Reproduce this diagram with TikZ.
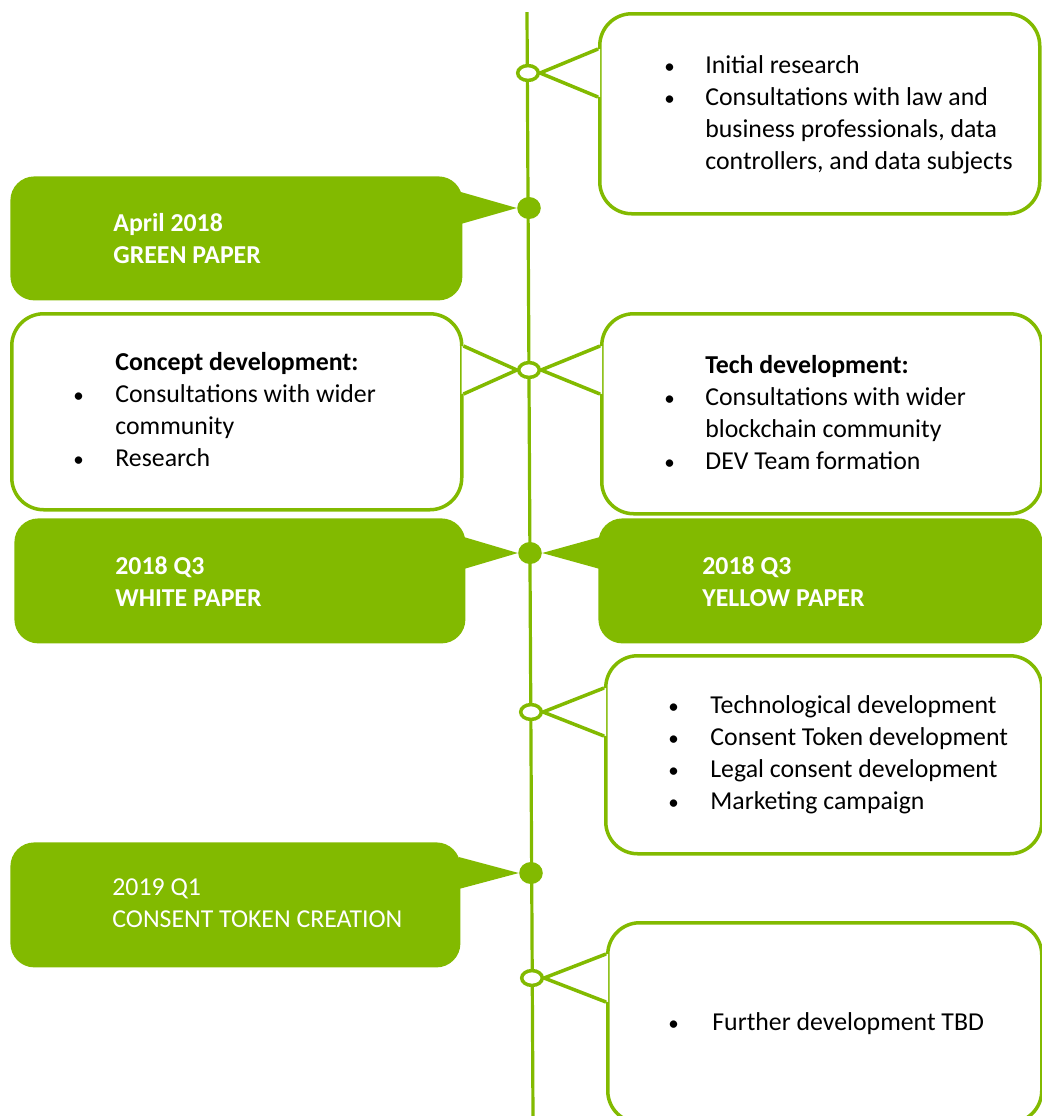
\documentclass[tikz,border=0pt]{standalone}
\usepackage{fontspec}
\setmainfont{Carlito}
\usetikzlibrary{calc, backgrounds, shapes.geometric}
\definecolor{tlgreen}{RGB}{130,186,0}
\newcommand{\blt}{{\fontsize{10.5}{16}\selectfont •}}

\begin{document}
\begin{tikzpicture}[x=0.5pt, y=-0.5pt]
    % Define styles
    \tikzstyle{whitebox} = [rectangle, draw=tlgreen, line width=1.75pt, fill=white, rounded corners=16pt, anchor=north west, inner sep=0pt]
    \tikzstyle{greenbox} = [rectangle, fill=tlgreen, rounded corners=12pt, anchor=north west, inner sep=0pt]
    \tikzstyle{openmark} = [ellipse, draw=tlgreen, line width=1.75pt, fill=white, minimum width=10.3pt, minimum height=7.4pt, inner sep=0pt]
    \tikzstyle{fullmark} = [ellipse, fill=tlgreen, minimum width=11.8pt, minimum height=11pt, inner sep=0pt]
    \tikzstyle{timeline} = [draw=tlgreen, line width=1.6pt]
    \tikzstyle{tailline} = [draw=tlgreen, line width=1.75pt, line join=miter]
    \tikzstyle{bodytext} = [anchor=base west, inner sep=0pt, font=\fontsize{12.9}{16}\selectfont]
    \tikzstyle{datetext} = [bodytext, text=white]

    \useasboundingbox (0,0) rectangle (1042,1116);

    % Markers on the timeline
    \node[openmark] (m1) at (528,73) {};
    \node[fullmark] (m2) at (529,208) {};
    \node[openmark] (m3) at (529,370) {};
    \node[fullmark] (m4) at (530,553) {};
    \node[openmark] (m5) at (531,712) {};
    \node[fullmark] (m6) at (531,873) {};
    \node[openmark] (m7) at (532,978) {};
    \coordinate (top) at (527,12);
    \coordinate (bottom) at (533,1116);

    \begin{scope}[on background layer]
    % Timeline
    \draw[timeline] (top) -- (bottom);

    % White callouts
    \node[whitebox, minimum width=220pt, minimum height=100pt] (research) at (598,12) {};
    \node[whitebox, minimum width=225pt, minimum height=98pt] (concept) at (10,312) {};
    \node[whitebox, minimum width=220pt, minimum height=100pt] (tech) at (600,312) {};
    \node[whitebox, minimum width=218pt, minimum height=99pt] (techdev) at (604,654) {};
    \node[whitebox, minimum width=217pt, minimum height=100pt] (further) at (606,921) {};

    % Green callouts
    \node[greenbox, minimum width=226pt, minimum height=62pt] (greenpaper) at (10,176) {};
    \node[greenbox, minimum width=225.5pt, minimum height=62.5pt] (whitepaper) at (14,518) {};
    \node[greenbox, minimum width=222pt, minimum height=62.5pt] (yellowpaper) at (598,518) {};
    \node[greenbox, minimum width=225pt, minimum height=62.5pt] (tokencreation) at (10,842) {};

    % Tails of the white callouts
    \fill[white] ($(research.west |- m1)+(1pt,12pt)$) -- (m1.east) -- ($(research.west |- m1)+(1pt,-12pt)$) -- cycle;
    \draw[tailline] ($(research.west |- m1)+(0,12pt)$) -- (m1.east) -- ($(research.west |- m1)+(0,-12pt)$);
    \fill[white] ($(concept.east |- m3)+(-1pt,12pt)$) -- (m3.west) -- ($(concept.east |- m3)+(-1pt,-12pt)$) -- cycle;
    \draw[tailline] ($(concept.east |- m3)+(0,12pt)$) -- (m3.west) -- ($(concept.east |- m3)+(0,-12pt)$);
    \fill[white] ($(tech.west |- m3)+(1pt,12pt)$) -- (m3.east) -- ($(tech.west |- m3)+(1pt,-12pt)$) -- cycle;
    \draw[tailline] ($(tech.west |- m3)+(0,12pt)$) -- (m3.east) -- ($(tech.west |- m3)+(0,-12pt)$);
    \fill[white] ($(techdev.west |- m5)+(1pt,12pt)$) -- (m5.east) -- ($(techdev.west |- m5)+(1pt,-12pt)$) -- cycle;
    \draw[tailline] ($(techdev.west |- m5)+(0,12pt)$) -- (m5.east) -- ($(techdev.west |- m5)+(0,-12pt)$);
    \fill[white] ($(further.west |- m7)+(1pt,12pt)$) -- (m7.east) -- ($(further.west |- m7)+(1pt,-12pt)$) -- cycle;
    \draw[tailline] ($(further.west |- m7)+(0,12pt)$) -- (m7.east) -- ($(further.west |- m7)+(0,-12pt)$);

    % Tails of the green callouts
    \fill[tlgreen] ($(greenpaper.east |- m2)+(-1pt,8pt)$) -- (m2.west) -- ($(greenpaper.east |- m2)+(-1pt,-8pt)$) -- cycle;
    \fill[tlgreen] ($(whitepaper.east |- m4)+(-1pt,8pt)$) -- (m4.west) -- ($(whitepaper.east |- m4)+(-1pt,-8pt)$) -- cycle;
    \fill[tlgreen] ($(yellowpaper.west |- m4)+(1pt,8pt)$) -- (m4.east) -- ($(yellowpaper.west |- m4)+(1pt,-8pt)$) -- cycle;
    \fill[tlgreen] ($(tokencreation.east |- m6)+(-1pt,8pt)$) -- (m6.west) -- ($(tokencreation.east |- m6)+(-1pt,-8pt)$) -- cycle;
    \end{scope}

    % Texts
    \node[bodytext] (researchtext) at (664,73) {\begin{tabular}[t]{@{}p{20.5pt}@{}l@{}}
        \blt & Initial research\\
        \blt & Consultations with law and\\
             & business professionals, data\\
             & controllers, and data subjects
    \end{tabular}};
    \node[bodytext] (concepttext) at (73,370) {\begin{tabular}[t]{@{}p{21pt}@{}l@{}}
             & \textbf{Concept development:}\\
        \blt & Consultations with wider\\
             & community\\
        \blt & Research
    \end{tabular}};
    \node[bodytext] (techtext) at (664,373) {\begin{tabular}[t]{@{}p{20.5pt}@{}l@{}}
             & \textbf{Tech development:}\\
        \blt & Consultations with wider\\
             & blockchain community\\
        \blt & DEV Team formation
    \end{tabular}};
    \node[bodytext] (techdevtext) at (668,713) {\begin{tabular}[t]{@{}p{21pt}@{}l@{}}
        \blt & Technological development\\
        \blt & Consent Token development\\
        \blt & Legal consent development\\
        \blt & Marketing campaign
    \end{tabular}};
    \node[bodytext] (furthertext) at (668,1030) {\begin{tabular}[t]{@{}p{22pt}@{}l@{}}
        \blt & Further development TBD
    \end{tabular}};

    \node[datetext] (greenpapertext) at (113,231) {\begin{tabular}[t]{@{}l@{}}
        \textbf{April 2018}\\
        \textbf{GREEN PAPER}
    \end{tabular}};
    \node[datetext] (whitepapertext) at (115,574) {\begin{tabular}[t]{@{}l@{}}
        \textbf{2018 Q3}\\
        \textbf{WHITE PAPER}
    \end{tabular}};
    \node[datetext] (yellowpapertext) at (702,574) {\begin{tabular}[t]{@{}l@{}}
        \textbf{2018 Q3}\\
        \textbf{YELLOW PAPER}
    \end{tabular}};
    \node[datetext] (tokencreationtext) at (112,895) {\begin{tabular}[t]{@{}l@{}}
        2019 Q1\\
        CONSENT TOKEN CREATION
    \end{tabular}};

\end{tikzpicture}
\end{document}
